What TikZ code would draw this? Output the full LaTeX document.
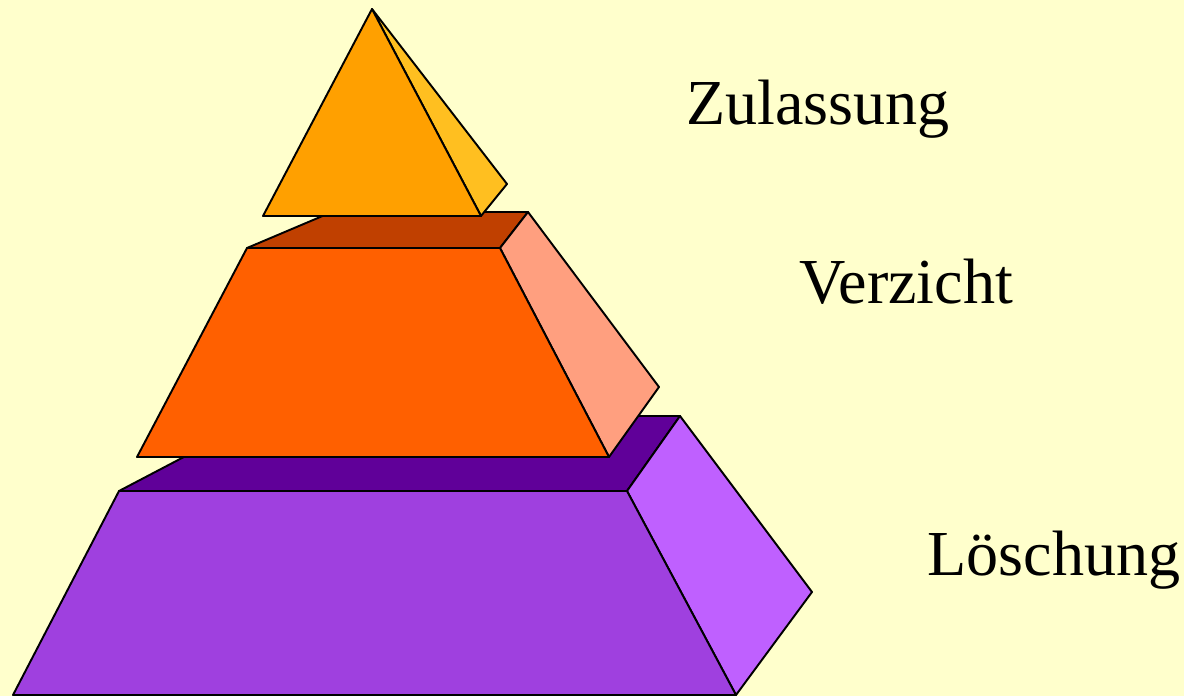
\documentclass[tikz,border=0pt]{standalone}
\usepackage{fontspec}
\setmainfont{Liberation Serif}
\definecolor{hintergrund}{HTML}{FFFFCC}
\definecolor{zulFront}{HTML}{FFA000}
\definecolor{zulSeite}{HTML}{FFBF20}
\definecolor{verFront}{HTML}{FF6000}
\definecolor{verOben}{HTML}{C04000}
\definecolor{verSeite}{HTML}{FF9F7F}
\definecolor{loeFront}{HTML}{9F40DF}
\definecolor{loeOben}{HTML}{600099}
\definecolor{loeSeite}{HTML}{BF60FF}

\begin{document}
\begin{tikzpicture}[
  x=0.02cm, y=-0.02cm,
  flaeche/.style={draw=black, line width=1.1pt, line join=round},
  stufe/.style={font=\fontsize{36.5}{40}\selectfont, text=black, anchor=base west, inner sep=0pt},
]
  % Hintergrund
  \fill[hintergrund] (0,0) rectangle (1184,696);

  % Unterste Stufe (Loeschung)
  \draw[flaeche, fill=loeOben]  (119,491) -- (627,491) -- (680,416) -- (262,416) -- cycle;
  \draw[flaeche, fill=loeSeite] (627,491) -- (680,416) -- (812,592) -- (736,695) -- cycle;
  \draw[flaeche, fill=loeFront] (119,491) -- (627,491) -- (736,695) -- (13,695) -- cycle;

  % Mittlere Stufe (Verzicht)
  \draw[flaeche, fill=verOben]  (247,248) -- (500,248) -- (528,212) -- (332,212) -- cycle;
  \draw[flaeche, fill=verSeite] (500,248) -- (528,212) -- (659,387) -- (609,457) -- cycle;
  \draw[flaeche, fill=verFront] (247,248) -- (500,248) -- (609,457) -- (137,457) -- cycle;

  % Spitze (Zulassung)
  \draw[flaeche, fill=zulSeite] (372,9) -- (507,184) -- (481,216) -- cycle;
  \draw[flaeche, fill=zulFront] (372,9) -- (481,216) -- (263,216) -- cycle;

  % Beschriftungen
  \node[stufe] (zulassung) at (686,125) {Zulassung};
  \node[stufe] (verzicht)  at (799,303) {Verzicht};
  \node[stufe] (loeschung) at (927,575) {Löschung};
\end{tikzpicture}
\end{document}
